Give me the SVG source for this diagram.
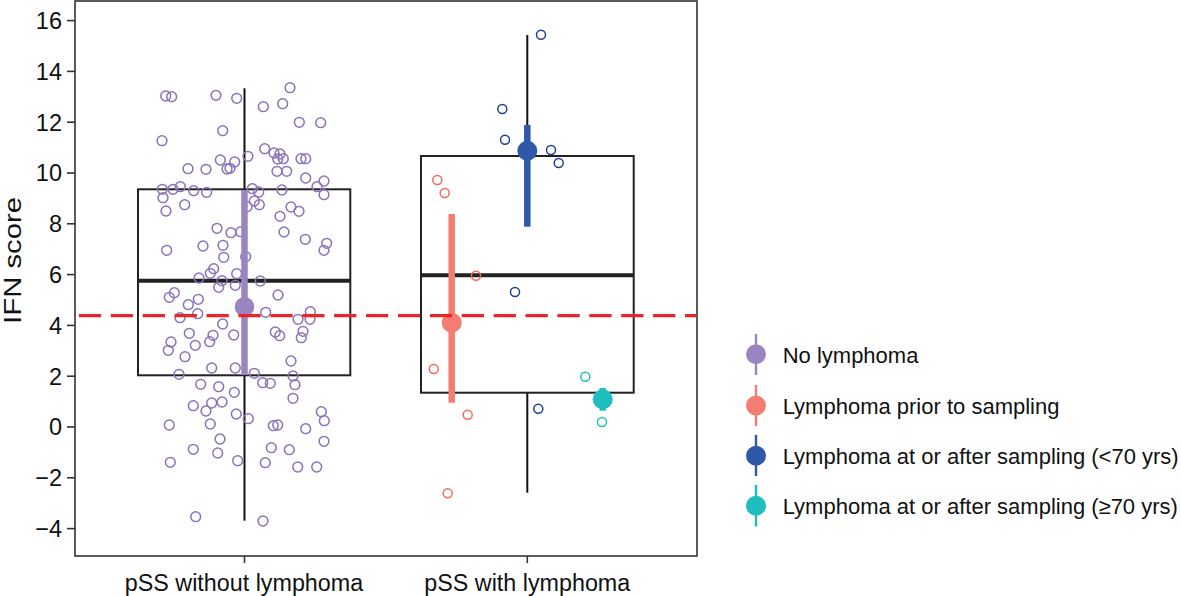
<svg xmlns="http://www.w3.org/2000/svg" width="1181" height="596" viewBox="0 0 1181 596">
<style>
text{font-family:"Liberation Sans",Arial,Helvetica,sans-serif;fill:#111}
.tick{font-size:23.5px;text-anchor:end}
.xl{font-size:23.3px;text-anchor:middle}
.lg{font-size:22px}
.ax{stroke:#333;stroke-width:1.6}
.box{fill:none;stroke:#222;stroke-width:2}
.med{stroke:#222;stroke-width:4}
.wh{stroke:#111;stroke-width:2}
.pu circle{fill:none;stroke:#8B72B9;stroke-width:1.5}
.sa circle{fill:none;stroke:#EF6A5E;stroke-width:1.5}
.bl circle{fill:none;stroke:#1F3F98;stroke-width:1.5}
.te circle{fill:none;stroke:#22BCBC;stroke-width:1.5}
</style>
<rect width="1181" height="596" fill="#fff"/>
<g id="axes">
<rect x="75" y="1" width="622" height="555" fill="none" stroke="#333" stroke-width="1.6"/>
<g class="ax">
<line x1="67" y1="20.6" x2="75" y2="20.6"/><line x1="67" y1="71.4" x2="75" y2="71.4"/><line x1="67" y1="122.2" x2="75" y2="122.2"/><line x1="67" y1="173" x2="75" y2="173"/><line x1="67" y1="223.8" x2="75" y2="223.8"/><line x1="67" y1="274.6" x2="75" y2="274.6"/><line x1="67" y1="325.4" x2="75" y2="325.4"/><line x1="67" y1="376.2" x2="75" y2="376.2"/><line x1="67" y1="427" x2="75" y2="427"/><line x1="67" y1="477.8" x2="75" y2="477.8"/><line x1="67" y1="528.6" x2="75" y2="528.6"/>
<line x1="244.5" y1="556" x2="244.5" y2="563"/><line x1="527.3" y1="556" x2="527.3" y2="563"/>
</g>
<text class="tick" x="62" y="29">16</text>
<text class="tick" x="62" y="79.8">14</text>
<text class="tick" x="62" y="130.6">12</text>
<text class="tick" x="62" y="181.4">10</text>
<text class="tick" x="62" y="232.2">8</text>
<text class="tick" x="62" y="283">6</text>
<text class="tick" x="62" y="333.8">4</text>
<text class="tick" x="62" y="384.6">2</text>
<text class="tick" x="62" y="435.4">0</text>
<text class="tick" x="62" y="486.2">−2</text>
<text class="tick" x="62" y="537">−4</text>
<text class="xl" x="244" y="590.5">pSS without lymphoma</text>
<text class="xl" x="527.3" y="590.5">pSS with lymphoma</text>
<text x="21" y="260.4" font-size="24" text-anchor="middle" textLength="127" lengthAdjust="spacingAndGlyphs" transform="rotate(-90 21 260.4)">IFN score</text>
</g>
<g id="box-without">
<line class="wh" x1="244.5" y1="88.3" x2="244.5" y2="189.3"/>
<line class="wh" x1="244.5" y1="375.3" x2="244.5" y2="520.7"/>
<rect class="box" x="138" y="189.3" width="212.3" height="186"/>
<line class="med" x1="138" y1="280.7" x2="350.3" y2="280.7"/>
</g>
<g id="box-with">
<line class="wh" x1="527.3" y1="35" x2="527.3" y2="156"/>
<line class="wh" x1="527.3" y1="392.7" x2="527.3" y2="492.7"/>
<rect class="box" x="421" y="156" width="212.7" height="236.7"/>
<line class="med" x1="421" y1="275.3" x2="633.7" y2="275.3"/>
</g>
<g id="points-no-lymphoma" class="pu">
<circle cx="165.7" cy="96" r="4.9"/><circle cx="171.7" cy="96.7" r="4.9"/><circle cx="216" cy="95.3" r="4.9"/><circle cx="236.7" cy="98.3" r="4.9"/><circle cx="290" cy="87.7" r="4.9"/><circle cx="263.3" cy="106.7" r="4.9"/><circle cx="282.7" cy="103.7" r="4.9"/><circle cx="299.3" cy="122.3" r="4.9"/><circle cx="320.7" cy="122.7" r="4.9"/><circle cx="222.7" cy="130.7" r="4.9"/>
<circle cx="162" cy="140.7" r="4.9"/><circle cx="264.7" cy="148.7" r="4.9"/><circle cx="274" cy="153" r="4.9"/><circle cx="280" cy="154" r="4.9"/><circle cx="277.7" cy="159" r="4.9"/><circle cx="283.3" cy="158.7" r="4.9"/><circle cx="301" cy="158.7" r="4.9"/><circle cx="305.7" cy="158.7" r="4.9"/><circle cx="220.3" cy="160" r="4.9"/><circle cx="234.7" cy="162" r="4.9"/>
<circle cx="248" cy="156.3" r="4.9"/><circle cx="188" cy="168.7" r="4.9"/><circle cx="206" cy="169.3" r="4.9"/><circle cx="227" cy="169" r="4.9"/><circle cx="230" cy="168.3" r="4.9"/><circle cx="277" cy="171.3" r="4.9"/><circle cx="286.7" cy="171.3" r="4.9"/><circle cx="305.7" cy="178" r="4.9"/><circle cx="324" cy="181" r="4.9"/><circle cx="317" cy="186.7" r="4.9"/>
<circle cx="162.3" cy="189.3" r="4.9"/><circle cx="173" cy="189.3" r="4.9"/><circle cx="180.3" cy="186.7" r="4.9"/><circle cx="193.7" cy="190.7" r="4.9"/><circle cx="206.7" cy="192.3" r="4.9"/><circle cx="163" cy="197.7" r="4.9"/><circle cx="252.3" cy="188.7" r="4.9"/><circle cx="258.7" cy="192" r="4.9"/><circle cx="282" cy="190" r="4.9"/><circle cx="324" cy="194.7" r="4.9"/>
<circle cx="184.7" cy="204.7" r="4.9"/><circle cx="166" cy="211" r="4.9"/><circle cx="247" cy="206.7" r="4.9"/><circle cx="254.3" cy="201" r="4.9"/><circle cx="259.3" cy="204.7" r="4.9"/><circle cx="291" cy="207" r="4.9"/><circle cx="299" cy="211.3" r="4.9"/><circle cx="280" cy="216.3" r="4.9"/><circle cx="217" cy="228.3" r="4.9"/><circle cx="231" cy="232.7" r="4.9"/>
<circle cx="240.7" cy="231.7" r="4.9"/><circle cx="284" cy="232" r="4.9"/><circle cx="305.3" cy="239.3" r="4.9"/><circle cx="326.7" cy="243.3" r="4.9"/><circle cx="324" cy="250.3" r="4.9"/><circle cx="166.7" cy="250.3" r="4.9"/><circle cx="203" cy="246" r="4.9"/><circle cx="223" cy="245.3" r="4.9"/><circle cx="223.7" cy="257.3" r="4.9"/><circle cx="245.7" cy="256.7" r="4.9"/>
<circle cx="213.7" cy="268.7" r="4.9"/><circle cx="210.3" cy="273.3" r="4.9"/><circle cx="236.7" cy="273.7" r="4.9"/><circle cx="199" cy="278" r="4.9"/><circle cx="222" cy="280.7" r="4.9"/><circle cx="260.3" cy="281" r="4.9"/><circle cx="235.3" cy="285.3" r="4.9"/><circle cx="218.7" cy="287.3" r="4.9"/><circle cx="174.3" cy="292.7" r="4.9"/><circle cx="169.3" cy="297.3" r="4.9"/>
<circle cx="198.3" cy="299.3" r="4.9"/><circle cx="278" cy="295" r="4.9"/><circle cx="188.3" cy="304.7" r="4.9"/><circle cx="197.7" cy="313.7" r="4.9"/><circle cx="180" cy="317.7" r="4.9"/><circle cx="265.7" cy="312.3" r="4.9"/><circle cx="310.3" cy="311.7" r="4.9"/><circle cx="298" cy="319.3" r="4.9"/><circle cx="310" cy="319.3" r="4.9"/><circle cx="222.7" cy="324" r="4.9"/>
<circle cx="189.3" cy="333.3" r="4.9"/><circle cx="213" cy="335.3" r="4.9"/><circle cx="209.7" cy="341.7" r="4.9"/><circle cx="233.7" cy="335" r="4.9"/><circle cx="275.3" cy="332" r="4.9"/><circle cx="279.7" cy="335.7" r="4.9"/><circle cx="303" cy="331.3" r="4.9"/><circle cx="301.3" cy="337.7" r="4.9"/><circle cx="171" cy="342" r="4.9"/><circle cx="168.3" cy="350.3" r="4.9"/>
<circle cx="195.3" cy="345.3" r="4.9"/><circle cx="185" cy="356.7" r="4.9"/><circle cx="291" cy="361" r="4.9"/><circle cx="211.7" cy="368" r="4.9"/><circle cx="235.3" cy="368" r="4.9"/><circle cx="179" cy="374.3" r="4.9"/><circle cx="254.3" cy="373.3" r="4.9"/><circle cx="293" cy="376" r="4.9"/><circle cx="200.7" cy="384.3" r="4.9"/><circle cx="218.7" cy="386.7" r="4.9"/>
<circle cx="262.7" cy="382.7" r="4.9"/><circle cx="270.3" cy="383.3" r="4.9"/><circle cx="295" cy="384.7" r="4.9"/><circle cx="234.3" cy="392.3" r="4.9"/><circle cx="293" cy="398.3" r="4.9"/><circle cx="193.3" cy="405.7" r="4.9"/><circle cx="211.7" cy="403" r="4.9"/><circle cx="222" cy="402" r="4.9"/><circle cx="206" cy="411" r="4.9"/><circle cx="236.3" cy="414" r="4.9"/>
<circle cx="248.3" cy="418.7" r="4.9"/><circle cx="321.3" cy="411.7" r="4.9"/><circle cx="324.3" cy="420.7" r="4.9"/><circle cx="169.3" cy="425" r="4.9"/><circle cx="210.3" cy="424" r="4.9"/><circle cx="273.3" cy="425.7" r="4.9"/><circle cx="277.7" cy="425" r="4.9"/><circle cx="305.7" cy="428.7" r="4.9"/><circle cx="220" cy="439" r="4.9"/><circle cx="324" cy="441.3" r="4.9"/>
<circle cx="193.3" cy="449.3" r="4.9"/><circle cx="217.7" cy="453" r="4.9"/><circle cx="271.3" cy="447.7" r="4.9"/><circle cx="289.3" cy="449.7" r="4.9"/><circle cx="170.3" cy="462.3" r="4.9"/><circle cx="237.7" cy="460.7" r="4.9"/><circle cx="265.3" cy="462.7" r="4.9"/><circle cx="297.7" cy="467" r="4.9"/><circle cx="316.7" cy="467" r="4.9"/><circle cx="195.7" cy="516.7" r="4.9"/>
<circle cx="263" cy="521" r="4.9"/>
</g>
<g id="points-prior" class="sa">
<circle cx="437.3" cy="180" r="4.5"/><circle cx="444.7" cy="193" r="4.5"/><circle cx="476" cy="275.7" r="4.5"/><circle cx="433.7" cy="369" r="4.5"/><circle cx="467.7" cy="414.7" r="4.5"/><circle cx="447.7" cy="493.3" r="4.5"/>
</g>
<g id="points-after-lt70" class="bl">
<circle cx="541" cy="34.7" r="4.5"/><circle cx="502.3" cy="109" r="4.5"/><circle cx="505" cy="139.7" r="4.5"/><circle cx="551" cy="150" r="4.5"/><circle cx="558.7" cy="163" r="4.5"/><circle cx="515" cy="292" r="4.5"/><circle cx="538.3" cy="408.7" r="4.5"/>
</g>
<g id="points-after-ge70" class="te">
<circle cx="585.3" cy="376.7" r="4.5"/><circle cx="602" cy="422" r="4.5"/>
</g>
<g id="summary-no-lymphoma">
<line x1="244.5" y1="190" x2="244.5" y2="375" stroke="#9B84C2" stroke-width="6.5"/>
<circle cx="244.5" cy="306.7" r="9.8" fill="#9B84C2"/>
</g>
<g id="summary-prior">
<line x1="451.7" y1="214" x2="451.7" y2="402.7" stroke="#F47C70" stroke-width="6.5"/>
<circle cx="451.7" cy="322.7" r="10" fill="#F47C70"/>
</g>
<g id="summary-after-lt70">
<line x1="527.3" y1="125" x2="527.3" y2="226.7" stroke="#2E58A8" stroke-width="6.5"/>
<circle cx="527.3" cy="150.7" r="10" fill="#2E58A8"/>
</g>
<g id="summary-after-ge70">
<line x1="602.7" y1="388" x2="602.7" y2="410.7" stroke="#1EBEBE" stroke-width="6.5"/>
<circle cx="602.7" cy="399.3" r="10" fill="#1EBEBE"/>
</g>
<g id="reference-line">
<line x1="75" y1="315.7" x2="697" y2="315.7" stroke="#E8262A" stroke-width="3.3" stroke-dasharray="22.3 9.6" stroke-dashoffset="-3.9"/>
</g>
<g id="legend">
<g id="legend-no-lymphoma"><line x1="756" y1="334" x2="756" y2="375" stroke="#9B84C2" stroke-width="2.4"/><circle cx="756" cy="354.3" r="10" fill="#9B84C2"/><text class="lg" x="782.7" y="362.5">No lymphoma</text></g>
<g id="legend-prior"><line x1="756" y1="385" x2="756" y2="426" stroke="#F47C70" stroke-width="2.4"/><circle cx="756" cy="405.5" r="10" fill="#F47C70"/><text class="lg" x="782.7" y="413.5">Lymphoma prior to sampling</text></g>
<g id="legend-after-lt70"><line x1="756" y1="435" x2="756" y2="476" stroke="#2E58A8" stroke-width="2.4"/><circle cx="756" cy="455.7" r="10" fill="#2E58A8"/><text class="lg" x="782.7" y="463.7">Lymphoma at or after sampling (&lt;70 yrs)</text></g>
<g id="legend-after-ge70"><line x1="756" y1="485" x2="756" y2="526.5" stroke="#1EBEBE" stroke-width="2.4"/><circle cx="756" cy="505.7" r="10" fill="#1EBEBE"/><text class="lg" x="782.7" y="513.7">Lymphoma at or after sampling (≥70 yrs)</text></g>
</g>
</svg>
